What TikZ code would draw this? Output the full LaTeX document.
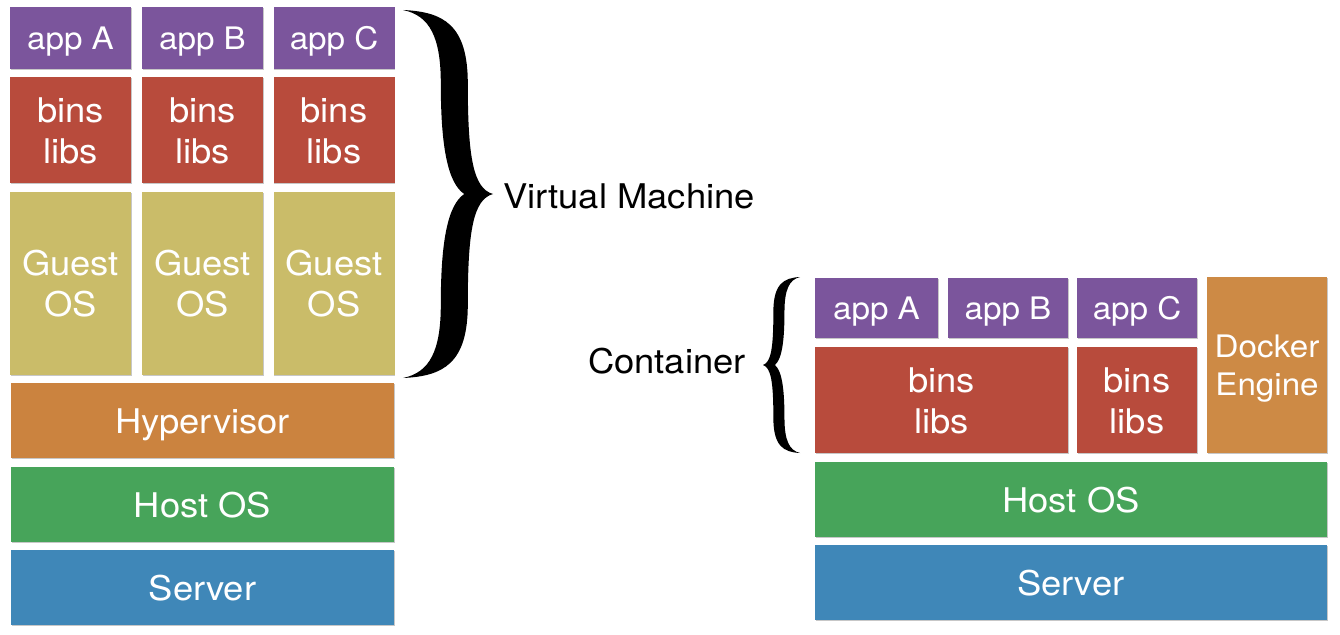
\documentclass[tikz,border=0pt]{standalone}
\usepackage{fontspec}
\setmainfont{TeX Gyre Heros}
\usetikzlibrary{shadows}
\definecolor{cpurple}{HTML}{7B559C}
\definecolor{cred}{HTML}{B84B3C}
\definecolor{colive}{HTML}{CABC69}
\definecolor{corange}{HTML}{CB833F}
\definecolor{cdocker}{HTML}{CD8A45}
\definecolor{cgreen}{HTML}{47A45A}
\definecolor{cblue}{HTML}{3F87B8}
\newcommand\hstr[1]{\scalebox{1.07}[1]{#1}}
\newcommand\lbl[2]{\raisebox{-#1pt}[0pt][0pt]{\hstr{\begin{tabular}[b]{@{}c@{}}#2\end{tabular}}}}
\begin{document}
\begin{tikzpicture}[x=1pt,y=-1pt,
  blk/.style={draw=none, inner sep=0pt, outer sep=0pt, text=white,
    drop shadow={shadow xshift=0.8pt, shadow yshift=-1.2pt, opacity=0.22, fill=black}},
  big/.style={font=\fontsize{34}{41}\selectfont},
  small/.style={font=\fontsize{31}{38}\selectfont},
  side/.style={inner sep=0pt, outer sep=0pt, font=\fontsize{34}{41}\selectfont, text=black}]
\useasboundingbox[fill=white] (0,0) rectangle (1340,634);

% ---------- Virtual machine stack ----------
\foreach \c/\n/\t in {70.5/A/app A, 202.5/B/app B, 334/C/app C}{
  \node[blk, small, fill=cpurple, minimum width=121pt, minimum height=62pt] (vmapp\n) at (\c,38) {\lbl{11}{\t}};
  \node[blk, big, fill=cred, minimum width=121pt, minimum height=106pt] (vmbins\n) at (\c,130) {\lbl{33}{bins\\libs}};
  \node[blk, big, fill=colive, minimum width=121pt, minimum height=183pt] (vmguest\n) at (\c,283.5) {\lbl{33}{Guest\\OS}};
}
\node[blk, big, fill=corange, minimum width=383pt, minimum height=75pt] (hyper) at (202.5,420.5) {\lbl{12.5}{Hypervisor}};
\node[blk, big, fill=cgreen, minimum width=383pt, minimum height=75pt] (vmhost) at (202.5,504.5) {\lbl{12.5}{Host OS}};
\node[blk, big, fill=cblue, minimum width=383pt, minimum height=75pt] (vmserver) at (202.5,587.5) {\lbl{12.5}{Server}};

% brace "}"
\begin{scope}[shift={(403,194)}, xscale=90, yscale=184]
  \fill[black] (0,-1) .. controls (0.45,-0.99) and (0.72,-0.92) .. (0.72,-0.6)
    .. controls (0.72,-0.2) and (0.78,-0.03) .. (1,0)
    .. controls (0.78,0.03) and (0.72,0.2) .. (0.72,0.6)
    .. controls (0.72,0.92) and (0.45,0.99) .. (0,1)
    .. controls (0.3,0.97) and (0.42,0.85) .. (0.42,0.6)
    .. controls (0.42,0.25) and (0.5,0.06) .. (0.68,0)
    .. controls (0.5,-0.06) and (0.42,-0.25) .. (0.42,-0.6)
    .. controls (0.42,-0.85) and (0.3,-0.97) .. (0,-1) -- cycle;
\end{scope}
\node[side, anchor=base west] (vmlabel) at (503,208) {\hstr{Virtual Machine}};

% ---------- Container stack ----------
\node[blk, small, fill=cpurple, minimum width=123pt, minimum height=60pt] (ctappA) at (876.5,308) {\lbl{11}{app A}};
\node[blk, small, fill=cpurple, minimum width=120pt, minimum height=60pt] (ctappB) at (1008,308) {\lbl{11}{app B}};
\node[blk, small, fill=cpurple, minimum width=120pt, minimum height=60pt] (ctappC) at (1137,308) {\lbl{11}{app C}};
\node[blk, big, fill=cred, minimum width=253pt, minimum height=106pt] (ctbinsAB) at (941.5,400) {\lbl{33}{bins\\libs}};
\node[blk, big, fill=cred, minimum width=120pt, minimum height=106pt] (ctbinsC) at (1137,400) {\lbl{33}{bins\\libs}};
\node[blk, small, fill=cdocker, minimum width=120pt, minimum height=176pt] (docker) at (1267,365) {\lbl{30}{Docker\\Engine}};
\node[blk, big, fill=cgreen, minimum width=512pt, minimum height=75pt] (cthost) at (1071,499.5) {\lbl{12.5}{Host OS}};
\node[blk, big, fill=cblue, minimum width=512pt, minimum height=75pt] (ctserver) at (1071,582.5) {\lbl{12.5}{Server}};

% brace "{"
\begin{scope}[shift={(800,365)}, xscale=-37, yscale=88]
  \fill[black] (0,-1) .. controls (0.45,-0.99) and (0.72,-0.92) .. (0.72,-0.6)
    .. controls (0.72,-0.2) and (0.78,-0.03) .. (1,0)
    .. controls (0.78,0.03) and (0.72,0.2) .. (0.72,0.6)
    .. controls (0.72,0.92) and (0.45,0.99) .. (0,1)
    .. controls (0.3,0.97) and (0.42,0.85) .. (0.42,0.6)
    .. controls (0.42,0.25) and (0.5,0.06) .. (0.68,0)
    .. controls (0.5,-0.06) and (0.42,-0.25) .. (0.42,-0.6)
    .. controls (0.42,-0.85) and (0.3,-0.97) .. (0,-1) -- cycle;
\end{scope}
\node[side, anchor=base west] (ctlabel) at (588,373) {\hstr{Container}};
\end{tikzpicture}
\end{document}
